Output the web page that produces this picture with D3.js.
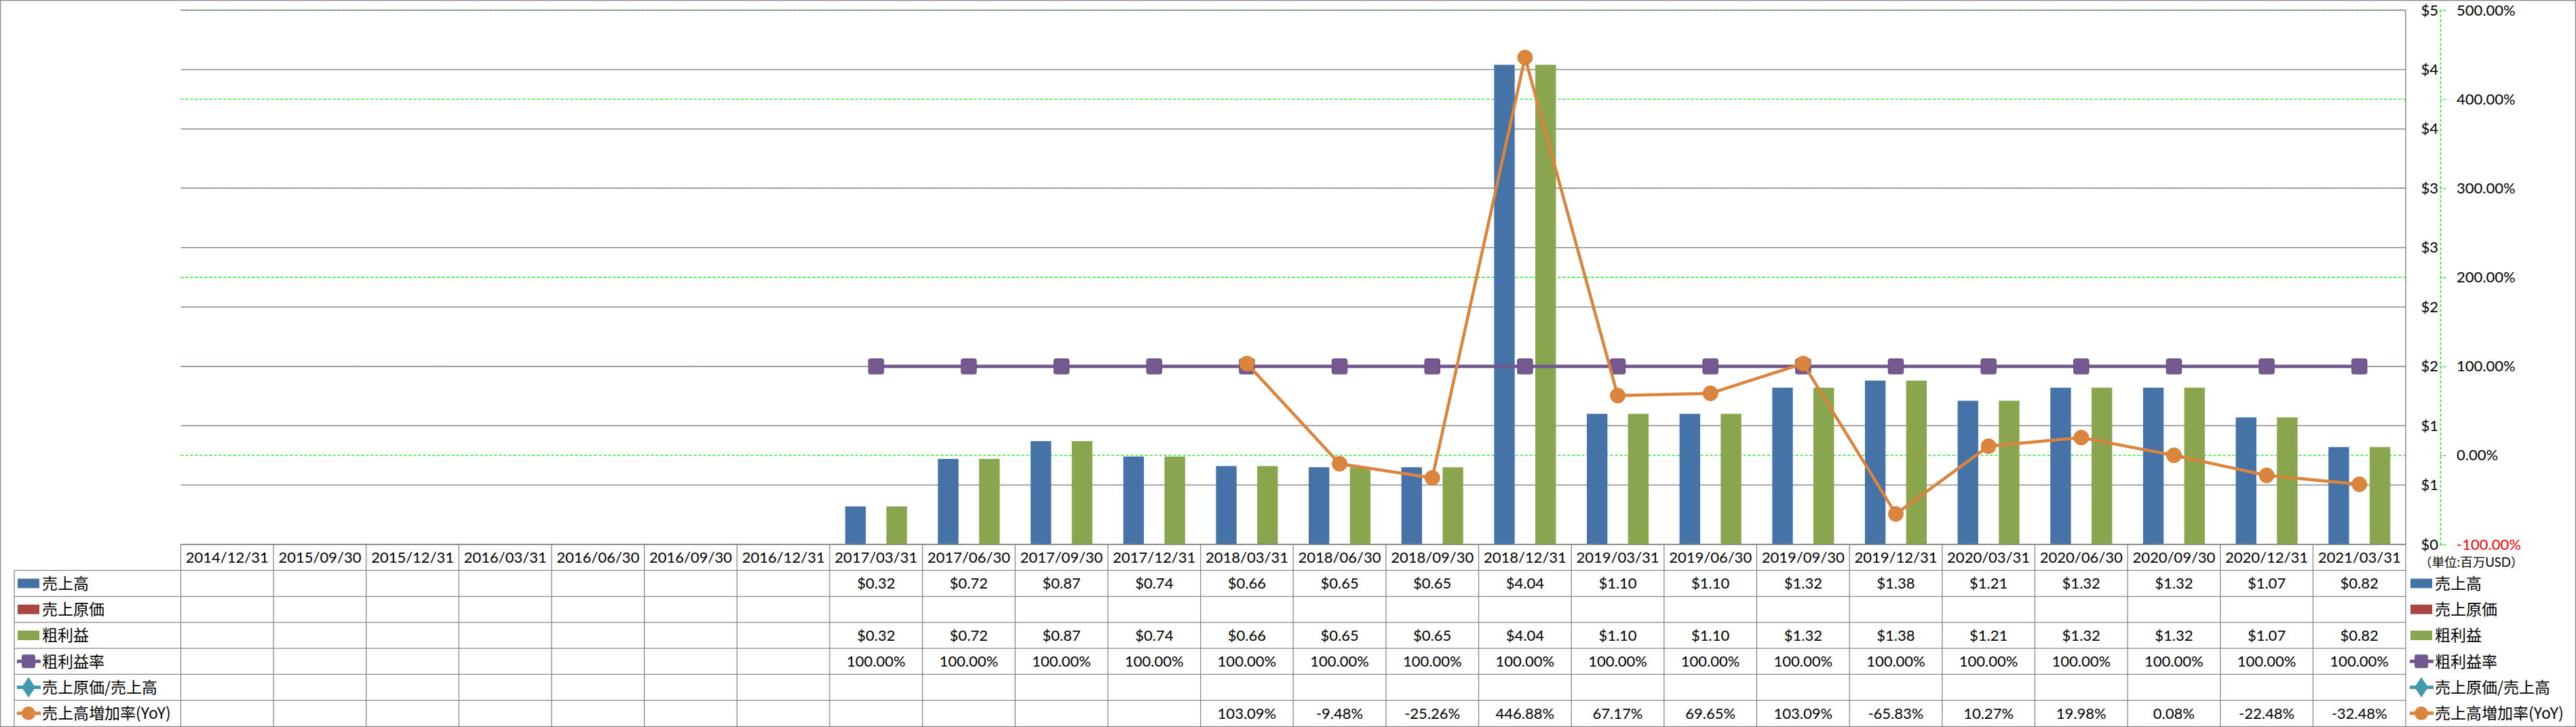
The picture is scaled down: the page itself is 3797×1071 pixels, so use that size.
<!DOCTYPE html>
<html>
<head>
<meta charset="utf-8">
<script src="https://cdn.jsdelivr.net/npm/d3@7"></script>
<style>
html,body{margin:0;padding:0;background:#fff;}
svg{display:block;}
text{font-family:Lato,"Noto Sans CJK JP",sans-serif;}
</style>
</head>
<body>
<svg id="chart" width="3797" height="1071"></svg>
<script>
// ---------- data ----------
const categories = ["2014/12/31","2015/09/30","2015/12/31","2016/03/31","2016/06/30","2016/09/30","2016/12/31",
  "2017/03/31","2017/06/30","2017/09/30","2017/12/31","2018/03/31","2018/06/30","2018/09/30","2018/12/31",
  "2019/03/31","2019/06/30","2019/09/30","2019/12/31","2020/03/31","2020/06/30","2020/09/30","2020/12/31","2021/03/31"];
const seriesNames = ["売上高","売上原価","粗利益","粗利益率","売上原価/売上高","売上高増加率(YoY)"];
const salesValues = [null,null,null,null,null,null,null,0.32,0.72,0.87,0.74,0.66,0.65,0.65,4.04,1.10,1.10,1.32,1.38,1.21,1.32,1.32,1.07,0.82];
const costValues = [null,null,null,null,null,null,null,null,null,null,null,null,null,null,null,null,null,null,null,null,null,null,null,null];
const grossValues = [null,null,null,null,null,null,null,0.32,0.72,0.87,0.74,0.66,0.65,0.65,4.04,1.10,1.10,1.32,1.38,1.21,1.32,1.32,1.07,0.82];
const marginPct = [null,null,null,null,null,null,null,100,100,100,100,100,100,100,100,100,100,100,100,100,100,100,100,100];
const costRatioPct = [null,null,null,null,null,null,null,null,null,null,null,null,null,null,null,null,null,null,null,null,null,null,null,null];
const yoyPct = [null,null,null,null,null,null,null,null,null,null,null,103.09,-9.48,-25.26,446.88,67.17,69.65,103.09,-65.83,10.27,19.98,0.08,-22.48,-32.48];
const leftTickValues = [0,0.5,1,1.5,2,2.5,3,3.5,4,4.5];
const leftTickLabels = ["$0","$1","$1","$2","$2","$3","$3","$4","$4","$5"];
const rightTickValues = [-100,0,100,200,300,400,500];
const unitLabel = "（単位:百万USD）";
const colors = ["#4572A7","#AA4643","#89A54E","#71588F","#4198AF","#DB843D"];

// ---------- layout ----------
const W = 3797, H = 1071;
const plotLeft = 266.5, plotRight = 3546, plotTop = 15, plotBottom = 802;
const tableBottom = 1070, legendLeft = 21, axisX = 3597;
const gridColor = "#888888";

const svg = d3.select("#chart");
svg.append("rect").attr("x",0.5).attr("y",0.5).attr("width",W-1).attr("height",H-1)
  .attr("fill","#fff").attr("stroke",gridColor).attr("stroke-width",1.5);

const x = d3.scaleBand().domain(categories).range([plotLeft, plotRight]).padding(0);
const xs = d3.scaleBand().domain(["売上高","売上原価","粗利益"]).range([0, x.bandwidth()]).paddingInner(0).paddingOuter(0.75);
const yL = d3.scaleLinear().domain([0,4.5]).range([plotBottom, plotTop]);
const yR = d3.scaleLinear().domain([-100,500]).range([plotBottom, plotTop]);

// gridlines
svg.append("g").selectAll("line").data(rightTickValues).join("line")
  .attr("x1",plotLeft).attr("x2",plotRight).attr("y1",d=>yR(d)).attr("y2",d=>yR(d))
  .attr("stroke","#00ee00").attr("stroke-width",1.3).attr("stroke-dasharray","4,3");
svg.append("g").selectAll("line").data(leftTickValues).join("line")
  .attr("x1",plotLeft).attr("x2",plotRight).attr("y1",d=>yL(d)).attr("y2",d=>yL(d))
  .attr("stroke",gridColor).attr("stroke-width",1.5);
svg.append("line").attr("x1",plotRight).attr("x2",plotRight).attr("y1",plotTop).attr("y2",plotBottom)
  .attr("stroke",gridColor).attr("stroke-width",1.5);

// bars
const barSeries = [
  {name:"売上高", values:salesValues, color:colors[0]},
  {name:"売上原価", values:costValues, color:colors[1]},
  {name:"粗利益", values:grossValues, color:colors[2]}
];
barSeries.forEach(s=>{
  svg.append("g").selectAll("rect")
    .data(categories.map((c,i)=>({c, v:s.values[i]})).filter(d=>d.v!=null))
    .join("rect")
    .attr("x",d=>x(d.c)+xs(s.name)).attr("width",xs.bandwidth())
    .attr("y",d=>yL(d.v)).attr("height",d=>yL(0)-yL(d.v))
    .attr("fill",s.color);
});

// lines
const cx = c => x(c) + x.bandwidth()/2;
function drawLine(values, color, marker){
  const pts = categories.map((c,i)=>({c, v:values[i]})).filter(d=>d.v!=null);
  const line = d3.line().x(d=>cx(d.c)).y(d=>yR(d.v));
  svg.append("path").datum(pts).attr("d",line).attr("fill","none")
    .attr("stroke",color).attr("stroke-width",marker==="square"?5:4.5).attr("stroke-linejoin","round");
  const g = svg.append("g");
  if(marker==="square"){
    g.selectAll("rect").data(pts).join("rect")
      .attr("x",d=>cx(d.c)-11).attr("y",d=>yR(d.v)-11).attr("width",22).attr("height",22)
      .attr("rx",3).attr("fill","#75598f").attr("stroke","#6a5189").attr("stroke-width",1.5);
  } else {
    g.selectAll("circle").data(pts).join("circle")
      .attr("cx",d=>cx(d.c)).attr("cy",d=>yR(d.v)).attr("r",11)
      .attr("fill",color).attr("stroke","#d67f37").attr("stroke-width",1);
  }
}
drawLine(marginPct, colors[3], "square");
drawLine(yoyPct, colors[5], "circle");

// axes
const axL = svg.append("g").attr("transform",`translate(${axisX},0)`)
  .call(d3.axisLeft(yL).tickValues(leftTickValues).tickFormat((d,i)=>leftTickLabels[i]).tickSize(0).tickPadding(3));
axL.select(".domain").remove();
axL.selectAll("text").attr("font-size",22).attr("fill","#000").style("font-family","Lato,sans-serif");

const axR = svg.append("g").attr("transform",`translate(${axisX},0)`)
  .call(d3.axisRight(yR).tickValues(rightTickValues).tickFormat(d=>d.toFixed(2)+"%").tickSize(8).tickSizeOuter(0).tickPadding(16));
axR.select(".domain").attr("stroke","#00ee00").attr("stroke-width",1.3).attr("stroke-dasharray","4,3");
axR.selectAll(".tick line").attr("stroke","#00ee00").attr("stroke-width",1.3).attr("stroke-dasharray","3,2");
axR.selectAll("text").attr("font-size",22).attr("fill",d=>d<0?"#ff0000":"#000").style("font-family","Lato,sans-serif");

svg.append("text").attr("x",3566).attr("y",829).attr("dy","0.35em")
  .attr("font-size",18.5).attr("fill","#000").text(unitLabel);

// ---------- data table ----------
const rowKeys = ["header", ...seriesNames];
const rows = d3.scaleBand().domain(rowKeys).range([plotBottom, tableBottom]).padding(0);
const tg = svg.append("g");
// horizontal lines
rowKeys.forEach((k,i)=>{
  const y = rows(k);
  tg.append("line").attr("x1", i===0?plotLeft:legendLeft).attr("x2",plotRight)
    .attr("y1",y).attr("y2",y).attr("stroke",gridColor).attr("stroke-width",1.3);
});
// vertical lines
const colEdges = categories.map(c=>x(c)).concat([plotRight]);
colEdges.forEach(xx=>{
  tg.append("line").attr("x1",xx).attr("x2",xx).attr("y1",plotBottom).attr("y2",tableBottom)
    .attr("stroke",gridColor).attr("stroke-width",1.3);
});
tg.append("line").attr("x1",legendLeft).attr("x2",legendLeft).attr("y1",rows(seriesNames[0])).attr("y2",tableBottom)
  .attr("stroke",gridColor).attr("stroke-width",1.3);

// header texts
tg.append("g").selectAll("text").data(categories).join("text")
  .attr("x",d=>cx(d)).attr("y",rows("header")+rows.bandwidth()/2).attr("dy","0.35em")
  .attr("text-anchor","middle").attr("font-size",22).attr("fill","#000").text(d=>d);

const fmtMoney = v => v==null ? "" : "$"+v.toFixed(2);
const fmtPct = v => v==null ? "" : v.toFixed(2)+"%";
const tableSeries = [
  {values:salesValues, fmt:fmtMoney},
  {values:costValues, fmt:fmtMoney},
  {values:grossValues, fmt:fmtMoney},
  {values:marginPct, fmt:fmtPct},
  {values:costRatioPct, fmt:fmtPct},
  {values:yoyPct, fmt:fmtPct}
];
tableSeries.forEach((s,si)=>{
  const ry = rows(seriesNames[si]) + rows.bandwidth()/2;
  tg.append("g").selectAll("text").data(categories.map((c,i)=>({c, v:s.values[i]})).filter(d=>d.v!=null))
    .join("text").attr("x",d=>cx(d.c)).attr("y",ry).attr("dy","0.35em")
    .attr("text-anchor","middle").attr("font-size",22).attr("fill","#000").text(d=>s.fmt(d.v));
});

// legend keys (left in table, and right of table)
const markerTypes = ["rect","rect","rect","square","diamond","circle"];
function legendEntry(x0, name, i){
  const yc = rows(name) + rows.bandwidth()/2;
  const g = svg.append("g");
  const c = colors[i];
  const t = markerTypes[i];
  if(t==="rect"){
    g.append("rect").attr("x",x0).attr("y",yc-7).attr("width",32).attr("height",14).attr("fill",c);
  } else {
    g.append("line").attr("x1",x0-1).attr("x2",x0+34).attr("y1",yc).attr("y2",yc)
      .attr("stroke",c).attr("stroke-width",5);
    if(t==="square"){
      g.append("rect").attr("x",x0+16-10).attr("y",yc-10).attr("width",20).attr("height",20).attr("rx",3).attr("fill",c);
    } else if(t==="diamond"){
      g.append("path").attr("d",d3.symbol(d3.symbolDiamond,260)()).attr("transform",`translate(${x0+16},${yc}) scale(1.15,1)`).attr("fill",c);
    } else {
      g.append("circle").attr("cx",x0+16).attr("cy",yc).attr("r",10).attr("fill",c);
    }
  }
  g.append("text").attr("x",x0+36).attr("y",yc).attr("dy","0.36em")
    .attr("font-size",23).attr("fill","#000").style("font-family","'Noto Sans CJK JP',sans-serif").text(name);
}
seriesNames.forEach((n,i)=>{ legendEntry(26, n, i); legendEntry(3553, n, i); });
</script>
</body>
</html>
